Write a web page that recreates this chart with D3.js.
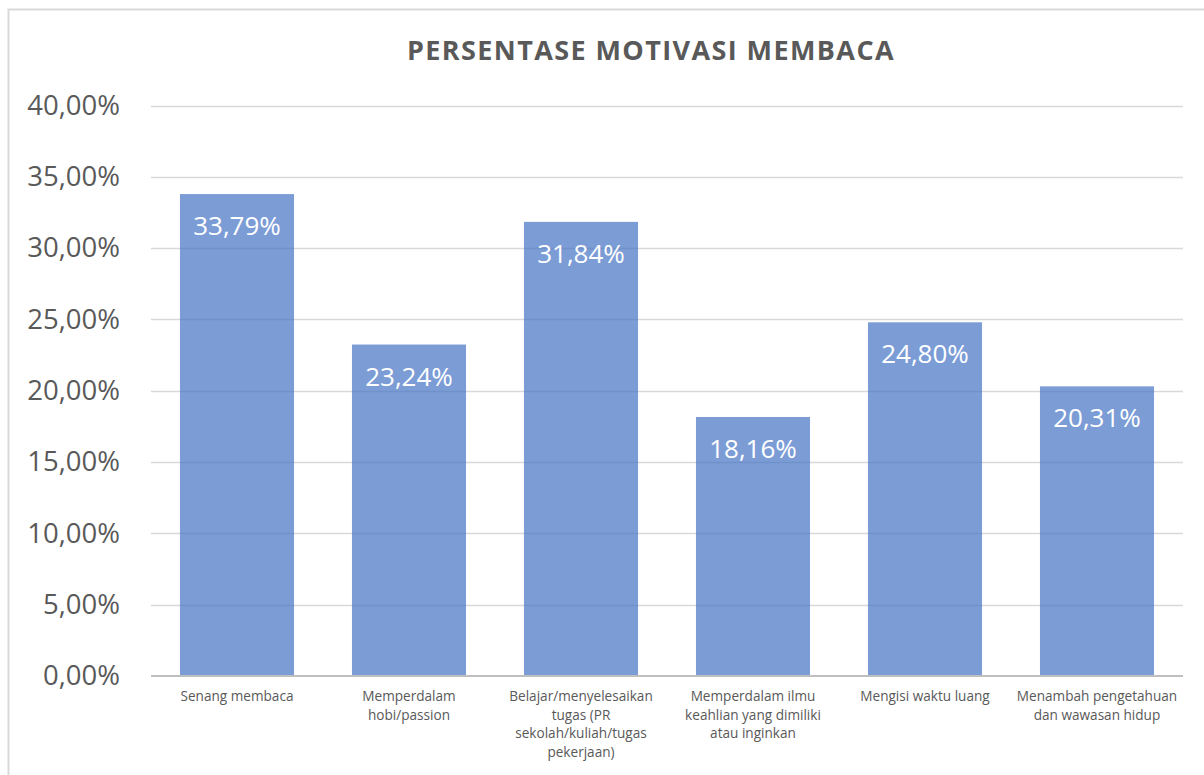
<!DOCTYPE html>
<html lang="id">
<head>
<meta charset="UTF-8">
<title>Persentase Motivasi Membaca</title>
<style>
    html, body { margin: 0; padding: 0; background: #fff; overflow: hidden; }
    svg { display: block; font-family: "Open Sans", "Noto Sans", sans-serif; }
</style>
</head>
<body>
<svg id="chart" width="1204" height="775"></svg>
<script src="https://cdn.jsdelivr.net/npm/d3@7"></script>
<script>
    // data
    const categories = [
        ['Senang membaca'],
        ['Memperdalam', 'hobi/passion'],
        ['Belajar/menyelesaikan', 'tugas (PR', 'sekolah/kuliah/tugas', 'pekerjaan)'],
        ['Memperdalam ilmu', 'keahlian yang dimiliki', 'atau inginkan'],
        ['Mengisi waktu luang'],
        ['Menambah pengetahuan', 'dan wawasan hidup']
    ];
    const values = [0.3379, 0.2324, 0.3184, 0.1816, 0.2480, 0.2031];
    const yTicks = [0, 0.05, 0.10, 0.15, 0.20, 0.25, 0.30, 0.35, 0.40];
    const title = 'PERSENTASE MOTIVASI MEMBACA';

    const svg = d3.select('#chart');
    const margin = { left: 151, right: 21, top: 105.5, bottom: 99 };
    const W = 1204, H = 775;

    const idLocale = d3.formatLocale({ decimal: ',', thousands: '.', grouping: [3], currency: ['', ''] });
    const pct = idLocale.format('.2%');

    // chart border (runs off right/bottom edge like the screenshot)
    svg.append('rect')
        .attr('x', 8.5).attr('y', 9.5)
        .attr('width', 1210).attr('height', 790)
        .attr('fill', '#fff')
        .attr('stroke', '#d9d9d9').attr('stroke-width', 2);

    const x = d3.scaleBand()
        .domain(d3.range(categories.length))
        .range([margin.left, W - margin.right])
        .paddingInner(0.337)
        .paddingOuter(0.1685);

    const y = d3.scaleLinear()
        .domain([0, 0.40])
        .range([H - margin.bottom, margin.top]);

    // gridlines
    svg.append('g')
        .selectAll('line')
        .data(yTicks.slice(1))
        .join('line')
        .attr('x1', margin.left).attr('x2', W - margin.right)
        .attr('y1', d => Math.round(y(d)) + 0.5).attr('y2', d => Math.round(y(d)) + 0.5)
        .attr('stroke', '#d9d9d9').attr('stroke-width', 1.5);

    // y axis labels
    const yAxis = svg.append('g')
        .attr('transform', `translate(${margin.left - 31},0)`)
        .call(d3.axisLeft(y).tickValues(yTicks).tickFormat(pct).tickSize(0).tickPadding(0));
    yAxis.select('.domain').remove();
    yAxis.selectAll('text')
        .attr('font-family', '"Open Sans", sans-serif')
        .attr('font-size', 27.5)
        .attr('fill', '#595959');

    // bars
    svg.append('g')
        .selectAll('rect')
        .data(values)
        .join('rect')
        .attr('x', (d, i) => x(i))
        .attr('y', d => y(d))
        .attr('width', x.bandwidth())
        .attr('height', d => y(0) - y(d))
        .attr('fill', '#4472c4')
        .attr('fill-opacity', 0.7);

    // baseline
    svg.append('line')
        .attr('x1', margin.left).attr('x2', W - margin.right)
        .attr('y1', y(0)).attr('y2', y(0))
        .attr('stroke', '#bfbfbf').attr('stroke-width', 2);

    // value labels
    svg.append('g')
        .selectAll('text')
        .data(values)
        .join('text')
        .attr('x', (d, i) => x(i) + x.bandwidth() / 2)
        .attr('y', d => y(d) + 41)
        .attr('text-anchor', 'middle')
        .attr('font-size', 26)
        .attr('fill', '#fff')
        .text(d => pct(d));

    // category labels
    const catG = svg.append('g')
        .selectAll('text')
        .data(categories)
        .join('text')
        .attr('x', (d, i) => x(i) + x.bandwidth() / 2)
        .attr('y', y(0) + 25)
        .attr('text-anchor', 'middle')
        .attr('font-size', 13.6)
        .attr('fill', '#595959');
    catG.selectAll('tspan')
        .data(d => d)
        .join('tspan')
        .attr('x', function () { return this.parentNode.getAttribute('x'); })
        .attr('dy', (d, i) => i === 0 ? 0 : 18.5)
        .text(d => d);

    // title
    svg.append('text')
        .attr('x', 651).attr('y', 60)
        .attr('text-anchor', 'middle')
        .attr('font-size', 27)
        .attr('font-weight', 'bold')
        .attr('letter-spacing', 1.4)
        .attr('fill', '#595959')
        .text(title);
</script>
</body>
</html>
